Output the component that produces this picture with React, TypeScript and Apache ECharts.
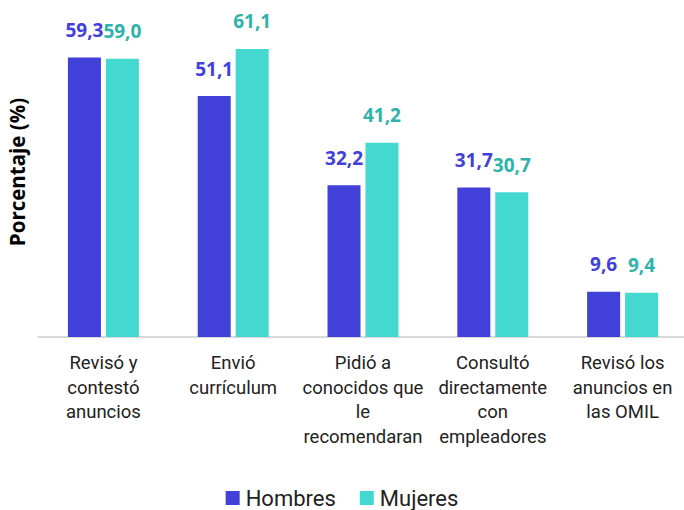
import React, { useEffect, useRef } from "react";
import * as echarts from "echarts";

const categories = [
  "Revisó y\ncontestó\nanuncios",
  "Envió\ncurrículum",
  "Pidió a\nconocidos que\nle\nrecomendaran",
  "Consultó\ndirectamente\ncon\nempleadores",
  "Revisó los\nanuncios en\nlas OMIL",
];
const hombres = [59.3, 51.1, 32.2, 31.7, 9.6];
const mujeres = [59.0, 61.1, 41.2, 30.7, 9.4];
const seriesNames = ["Hombres", "Mujeres"];

const fmt = (p: any) => Number(p.value).toFixed(1).replace(".", ",");

export default function App() {
  const ref = useRef<HTMLDivElement>(null);
  useEffect(() => {
    document.body.style.margin = "0";
    const chart = echarts.init(ref.current!, null, { renderer: "svg" });
    chart.setOption({
      animation: false,
      textStyle: { fontFamily: "Roboto" },
      grid: {
        left: 38.5,
        width: 649,
        top: 7,
        bottom: 173,
        containLabel: false,
        outerBoundsMode: "none",
      },
      legend: {
        top: 487,
        left: "center",
        padding: 0,
        itemWidth: 14,
        itemHeight: 14,
        itemGap: 24,
        icon: "rect",
        textStyle: { fontSize: 22, color: "#222", fontFamily: "Roboto", padding: [0, 0, 0, 1] },
        data: seriesNames,
      },
      xAxis: {
        type: "category",
        data: categories,
        axisLine: { lineStyle: { color: "#d9d9d9", width: 2 } },
        axisTick: { show: false },
        axisLabel: {
          interval: 0,
          fontSize: 18.5,
          lineHeight: 24.5,
          color: "#222",
          margin: 14,
          fontFamily: "Roboto",
        },
      },
      yAxis: {
        type: "value",
        min: 0,
        max: 70,
        splitLine: { show: false },
        axisLabel: { show: false },
        axisLine: { show: false },
        axisTick: { show: false },
        name: "Porcentaje (%)",
        nameLocation: "middle",
        nameGap: 11,
        nameRotate: 90,
        nameTextStyle: { fontSize: 20.5, fontWeight: "bold", color: "#000", fontFamily: "Open Sans" },
      },
      series: [
        {
          name: seriesNames[0],
          type: "bar",
          data: hombres,
          barWidth: 33,
          barGap: "15%",
          itemStyle: { color: "#4141d9" },
          label: {
            show: true,
            position: "top",
            distance: 18,
            formatter: fmt,
            fontSize: 19,
            fontWeight: "bold",
            color: "#4141d9",
            fontFamily: "Open Sans",
          },
        },
        {
          name: seriesNames[1],
          type: "bar",
          data: mujeres,
          barWidth: 33,
          barGap: "15%",
          itemStyle: { color: "#43d9d0" },
          label: {
            show: true,
            position: "top",
            distance: 18,
            formatter: fmt,
            fontSize: 19,
            fontWeight: "bold",
            color: "#2db3aa",
            fontFamily: "Open Sans",
          },
        },
      ],
    });
    return () => chart.dispose();
  }, []);
  return <div ref={ref} style={{ width: 684, height: 510 }} />;
}
